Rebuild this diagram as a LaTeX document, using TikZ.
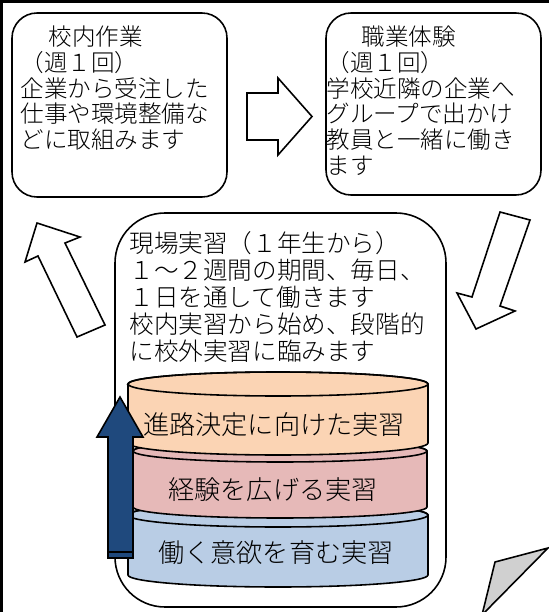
\documentclass[tikz,border=0pt]{standalone}
\usepackage{fontspec}
\setmainfont{Noto Sans CJK JP Light}
\usepackage{xcolor}
\usepackage{tikz}
\usetikzlibrary{positioning}
\definecolor{layerorange}{HTML}{FBD4B4}
\definecolor{layerpink}{HTML}{E6B9B8}
\definecolor{layerblue}{HTML}{B9CDE5}
\definecolor{stepnavy}{HTML}{1F497D}
\definecolor{foldgray}{HTML}{D0D0D0}

\begin{document}
\begin{tikzpicture}[
    roundbox/.style={draw, line width=0.9pt, minimum width=4.3cm, rounded corners=0.5cm},
    boxtext/.style={inner sep=0pt, align=left, font=\fontsize{13.4}{14.6}\selectfont},
    layertext/.style={inner sep=0pt, font=\fontsize{14.9}{16}\selectfont},
    hollowarrow/.style={draw, fill=white, line width=0.9pt, line join=miter},
    layer/.style={draw, line width=0.9pt}]
    \useasboundingbox (0,0) rectangle (10.96,-12.24);

    % page frame
    \draw[line width=1.7pt] (0.03,-12.4) -- (0.03,-0.03) -- (11.1,-0.03);

    % Top row
    \node[roundbox, minimum height=3.68cm] (sagyo) at (2.39,-2.10) {};
    \node[roundbox, minimum height=3.64cm] (taiken) at (8.67,-2.08) {};
    \node[boxtext, below right=0.27cm and 0.18cm of sagyo.north west] (sagyotext) {\hspace*{1.2em}校内作業\\（週１回）\\企業から受注した\\仕事や環境整備な\\どに取組みます};
    \node[boxtext, below right=0.27cm and 0.02cm of taiken.north west] (taikentext) {\hspace*{1.5em}職業体験\\（週１回）\\学校近隣の企業へ\\グループで出かけ\\教員と一緒に働き\\ます};

    % Main box
    \node[draw, line width=0.9pt, rounded corners=1cm, minimum width=6.62cm, minimum height=7.88cm] (genba) at (5.61,-8.20) {};
    \node[boxtext, font=\fontsize{14}{15.3}\selectfont, below right=0.38cm and 0.30cm of genba.north west] (genbatext) {現場実習（１年生から）\\１～２週間の期間、毎日、\\１日を通して働きます\\校内実習から始め、段階的\\に校外実習に臨みます};

    % Layers
    \path[layer, fill=layerblue] (2.56,-10.30) -- (2.56,-11.50) arc[start angle=180, end angle=360, x radius=3.0cm, y radius=0.24cm] -- (8.56,-10.30) arc[start angle=0, end angle=180, x radius=3.0cm, y radius=0.24cm] -- cycle;
    \draw[layer] (5.56,-10.30) ellipse [x radius=3.0cm, y radius=0.24cm];
    \path[layer, fill=layerpink] (2.66,-9.02) -- (2.66,-10.14) arc[start angle=180, end angle=360, x radius=2.94cm, y radius=0.22cm] -- (8.54,-9.02) arc[start angle=0, end angle=180, x radius=2.94cm, y radius=0.22cm] -- cycle;
    \draw[layer] (5.60,-9.02) ellipse [x radius=2.94cm, y radius=0.22cm];
    \path[layer, fill=layerorange] (2.56,-7.68) -- (2.56,-8.86) arc[start angle=180, end angle=360, x radius=3.0cm, y radius=0.24cm] -- (8.56,-7.68) arc[start angle=0, end angle=180, x radius=3.0cm, y radius=0.24cm] -- cycle;
    \draw[layer] (5.56,-7.68) ellipse [x radius=3.0cm, y radius=0.24cm];

    \node[layertext] (kettei) at (5.48,-8.50) {進路決定に向けた実習};
    \node[layertext] (keiken) at (5.46,-9.80) {経験を広げる実習};
    \node[layertext] (iyoku) at (5.52,-11.06) {働く意欲を育む実習};

    % Up arrow
    \filldraw[line width=0.9pt, fill=stepnavy, line join=miter] (2.16,-11.16) -- (2.16,-8.74) -- (1.94,-8.74) -- (2.40,-7.94) -- (2.86,-8.74) -- (2.66,-8.74) -- (2.66,-11.16) -- cycle;
    \draw[line width=0.9pt] (2.16,-11.04) -- (2.66,-11.04);

    % Cycle arrows
    \draw[hollowarrow] (4.94,-1.86) -- (5.56,-1.86) -- (5.56,-1.56) -- (6.24,-2.33) -- (5.56,-3.10) -- (5.56,-2.80) -- (4.94,-2.80) -- cycle;
    \draw[hollowarrow] (10.00,-4.24) -- (10.60,-4.40) -- (10.00,-6.12) -- (10.30,-6.22) -- (9.52,-6.58) -- (9.14,-5.86) -- (9.44,-5.94) -- cycle;
    \draw[hollowarrow] (0.74,-4.46) -- (1.60,-4.74) -- (1.30,-4.86) -- (2.10,-6.50) -- (1.54,-6.74) -- (0.76,-5.12) -- (0.50,-5.24) -- cycle;

    % Page fold
    \filldraw[line width=0.9pt, fill=foldgray, line join=miter] (9.90,-11.24) -- (10.96,-10.96) -- (9.64,-12.30) -- cycle;
\end{tikzpicture}
\end{document}
